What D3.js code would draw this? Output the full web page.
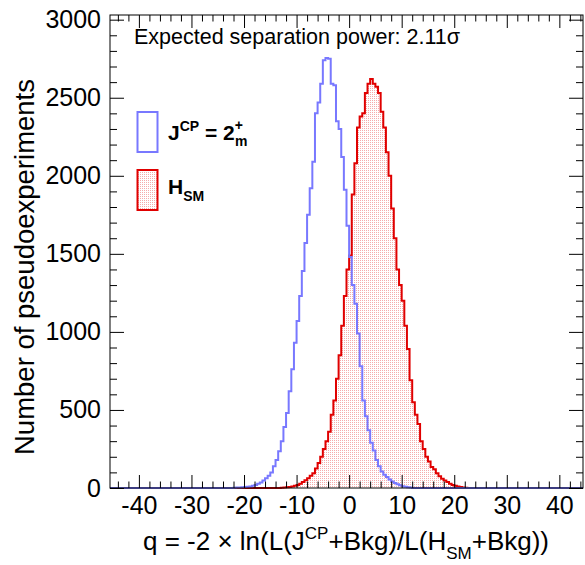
<!DOCTYPE html>
<html>
<head>
<meta charset="utf-8">
<script src="https://cdn.jsdelivr.net/npm/d3@7"></script>
<style>
  body { margin: 0; background: #fff; }
  svg { display: block; }
  text { font-family: "Liberation Sans", Arial, Helvetica, sans-serif; fill: #000; }
  .axis line { stroke: #000; stroke-width: 1; }
  .axis path { display: none; }
</style>
</head>
<body>
<svg id="chart" width="585" height="565"></svg>
<script>
// histogram binning (q axis)
var qRange = [-45.5, 44.5];
var binWidth = 0.5;

// J^CP = 2+m pseudoexperiments, first bin starts at jcpStart
var jcpStart = -22.0;
var jcpCounts = [2, 3, 4, 5, 6, 8, 10, 14, 20, 28, 36, 48, 62, 78, 100, 140, 180, 235, 300, 390,
  480, 620, 760, 930, 1070, 1230, 1390, 1570, 1750, 1920, 2090, 2400, 2470, 2590, 2740, 2755, 2750,
  2590, 2580, 2350, 2300, 2120, 1910, 1680, 1480, 1300, 1180, 990, 780, 560, 460, 370, 290, 240,
  180, 140, 105, 85, 70, 55, 42, 32, 24, 18, 12, 8, 5, 3];

// H_SM pseudoexperiments, first bin starts at hsmStart
var hsmStart = -13.0;
var hsmCounts = [2, 3, 5, 7, 10, 14, 19, 28, 38, 50, 62, 78, 95, 125, 160, 200, 250, 300, 360,
  470, 560, 700, 850, 1040, 1230, 1400, 1490, 1880, 2080, 2310, 2380, 2400, 2530, 2590, 2620,
  2590, 2570, 2530, 2410, 2310, 2150, 2000, 1790, 1600, 1400, 1300, 1200, 1040, 890, 690, 550,
  470, 410, 300, 250, 200, 170, 135, 120, 95, 75, 60, 48, 38, 28, 20, 14, 10, 6, 4, 2];

var xTicks = [-40, -30, -20, -10, 0, 10, 20, 30, 40];
var yTicks = [0, 500, 1000, 1500, 2000, 2500, 3000];
var yMax = 3030;

var frame = { left: 110, right: 583, top: 15, bottom: 488 };

var svg = d3.select("#chart");

var x = d3.scaleLinear().domain(qRange).range([frame.left, frame.right]);
var y = d3.scaleLinear().domain([0, yMax]).range([frame.bottom, frame.top]);

// dotted fill like ROOT's fill style
var defs = svg.append("defs");
var pat = defs.append("pattern")
    .attr("id", "dots")
    .attr("width", 2).attr("height", 2)
    .attr("patternUnits", "userSpaceOnUse");
pat.append("rect").attr("width", 2).attr("height", 2).attr("fill", "#fff");
pat.append("rect").attr("width", 1).attr("height", 1).attr("fill", "#f5abab");

function histPoints(start, counts) {
    var pts = [[qRange[0], 0]];
    counts.forEach(function(c, i) { pts.push([start + i * binWidth, c]); });
    pts.push([start + counts.length * binWidth, 0]);
    pts.push([qRange[1], 0]);
    return pts;
}

var line = d3.line()
    .x(function(d) { return x(d[0]); })
    .y(function(d) { return y(d[1]); })
    .curve(d3.curveStepAfter);

var area = d3.area()
    .x(function(d) { return x(d[0]); })
    .y0(y(0))
    .y1(function(d) { return y(d[1]); })
    .curve(d3.curveStepAfter);

var hsmPts = histPoints(hsmStart, hsmCounts);
var jcpPts = histPoints(jcpStart, jcpCounts);

var plot = svg.append("g").attr("class", "hists");
plot.append("path").attr("d", area(hsmPts)).attr("fill", "url(#dots)");
plot.append("path").attr("d", line(hsmPts))
    .attr("fill", "none").attr("stroke", "#e00000").attr("stroke-width", 2);
plot.append("path").attr("d", line(jcpPts))
    .attr("fill", "none").attr("stroke", "#7878ff").attr("stroke-width", 2);

// minor tick values
var xMinor = d3.range(-44, 45, 2).filter(function(v) { return v % 10 !== 0; });
var yMinor = d3.range(0, 3001, 100).filter(function(v) { return v % 500 !== 0; });

function addAxis(gen, transform, size, values, labels) {
    var g = svg.append("g").attr("class", "axis").attr("transform", transform);
    var a = gen.tickValues(values).tickSize(size);
    a.tickFormat(labels ? function(d) { return String(d); } : "");
    g.call(a);
    return g;
}

// bottom
var bx = addAxis(d3.axisBottom(x).tickPadding(8), "translate(0," + frame.bottom + ")", -13, xTicks, true);
bx.selectAll("text").attr("font-size", 25).style("font-family", "Liberation Sans, Arial, sans-serif");
addAxis(d3.axisBottom(x), "translate(0," + frame.bottom + ")", -6.5, xMinor, false);
// top
addAxis(d3.axisTop(x), "translate(0," + frame.top + ")", -13, xTicks, false);
addAxis(d3.axisTop(x), "translate(0," + frame.top + ")", -6.5, xMinor, false);
// left
var ly = addAxis(d3.axisLeft(y).tickPadding(9), "translate(" + frame.left + ",0)", -14, yTicks, true);
ly.selectAll("text").attr("font-size", 25).style("font-family", "Liberation Sans, Arial, sans-serif");
addAxis(d3.axisLeft(y), "translate(" + frame.left + ",0)", -7, yMinor, false);
// right
addAxis(d3.axisRight(y), "translate(" + frame.right + ",0)", -14, yTicks, false);
addAxis(d3.axisRight(y), "translate(" + frame.right + ",0)", -7, yMinor, false);

svg.selectAll(".axis text").attr("fill", "#000");

// frame
svg.append("rect")
    .attr("x", frame.left).attr("y", frame.top)
    .attr("width", frame.right - frame.left).attr("height", frame.bottom - frame.top)
    .attr("fill", "none").attr("stroke", "#000").attr("stroke-width", 1);

// header
svg.append("text")
    .attr("x", 134).attr("y", 44)
    .attr("font-size", 21.5)
    .text("Expected separation power: 2.11\u03c3");

// y title
svg.append("text")
    .attr("transform", "translate(34,267) rotate(-90)")
    .attr("text-anchor", "middle")
    .attr("font-size", 27.5)
    .text("Number of pseudoexperiments");

// x title
var xt = svg.append("text")
    .attr("x", 346).attr("y", 550)
    .attr("text-anchor", "middle")
    .attr("font-size", 26);
xt.append("tspan").text("q = -2 \u00d7 ln(L(J");
xt.append("tspan").attr("font-size", 17).attr("dy", -11).text("CP");
xt.append("tspan").attr("dy", 11).text("+Bkg)/L(H");
xt.append("tspan").attr("font-size", 17).attr("dy", 9).text("SM");
xt.append("tspan").attr("dy", -9).text("+Bkg))");

// legend
var legend = svg.append("g").attr("class", "legend");
legend.append("rect")
    .attr("x", 137.5).attr("y", 112).attr("width", 20).attr("height", 40)
    .attr("fill", "#fff").attr("stroke", "#7878ff").attr("stroke-width", 2);
legend.append("rect")
    .attr("x", 137.5).attr("y", 170).attr("width", 20).attr("height", 40)
    .attr("fill", "url(#dots)").attr("stroke", "#e00000").attr("stroke-width", 2);

var l1 = legend.append("text").attr("x", 168).attr("y", 140)
    .attr("font-size", 21).attr("font-weight", "bold");
l1.append("tspan").text("J");
l1.append("tspan").attr("font-size", 14).attr("dy", -9).text("CP");
l1.append("tspan").attr("dy", 9).text(" = 2");
l1.append("tspan").attr("font-size", 14).attr("dy", -10).text("+");
l1.append("tspan").attr("font-size", 14).attr("dx", -8).attr("dy", 16).text("m");

var l2 = legend.append("text").attr("x", 168).attr("y", 194)
    .attr("font-size", 21).attr("font-weight", "bold");
l2.append("tspan").text("H");
l2.append("tspan").attr("font-size", 14).attr("dy", 7).text("SM");
</script>
</body>
</html>
